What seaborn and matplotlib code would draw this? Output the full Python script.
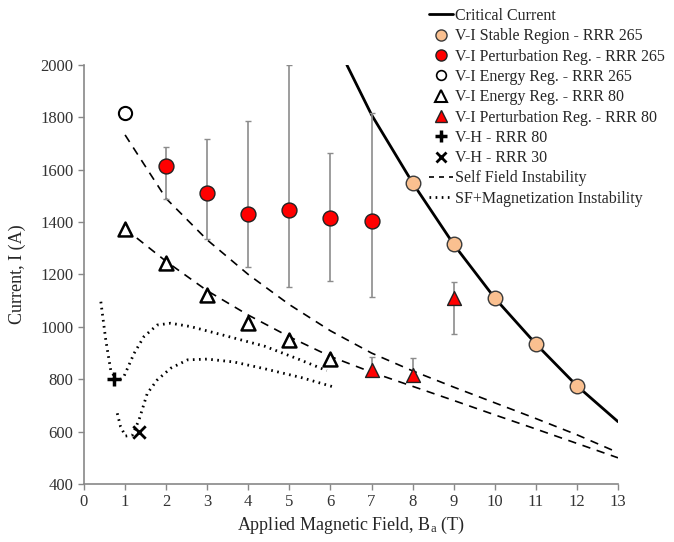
import numpy as np
import pandas as pd
import matplotlib
matplotlib.use("Agg")
import matplotlib.pyplot as plt
import seaborn as sns
from matplotlib.lines import Line2D

# --- data ---
crit_b = [6.4, 7, 8, 9, 10, 11, 12, 13]
crit_i = [2000, 1810, 1550, 1315, 1110, 935, 775, 638]

stable_b = [8, 9, 10, 11, 12]
stable_i = [1550, 1315, 1110, 935, 775]

pert265_b = [2, 3, 4, 5, 6, 7]
pert265_i = [1615, 1512, 1432, 1448, 1414, 1406]
pert265_hi = [1688, 1717, 1785, 2000, 1665, 1815]
pert265_lo = [1488, 1336, 1228, 1152, 1177, 1115]

energy265_b = [1]
energy265_i = [1815]

energy80_b = [1, 2, 3, 4, 5, 6]
energy80_i = [1372, 1243, 1122, 1014, 950, 876]

pert80_b = [7, 8, 9]
pert80_i = [834, 816, 1109]
pert80_hi = [884, 880, 1170]
pert80_lo = [834, 816, 973]

vh80_b, vh80_i = [0.72], [800]
vh30_b, vh30_i = [1.34], [600]

sf_upper_b = [1, 2, 3, 4, 5, 6, 7, 8, 9, 10, 11, 12, 13]
sf_upper_i = [1733, 1490, 1332, 1200, 1085, 985, 900, 832, 770, 710, 650, 588, 520]
sf_lower_b = [1, 2, 3, 4, 5, 6, 7, 8, 9, 10, 11, 12, 13]
sf_lower_i = [1375, 1250, 1138, 1045, 962, 887, 827, 773, 719, 664, 610, 555, 500]

mag1_b = [0.41, 0.53, 0.65, 0.81, 0.97, 1.22, 1.46, 1.78, 2.11, 2.6, 3.4, 4.4, 5.2, 5.91]
mag1_i = [1096, 950, 835, 791, 810, 899, 963, 1007, 1014, 1001, 968, 926, 878, 833]
mag2_b = [0.81, 0.89, 1.01, 1.18, 1.34, 1.54, 1.78, 2.11, 2.52, 3.0, 3.65, 4.4, 5.3, 6.11]
mag2_i = [670, 619, 583, 587, 645, 746, 797, 842, 874, 877, 866, 840, 806, 769]

sns.set_style("ticks")
plt.rcParams['font.family'] = ['Liberation Serif', 'DejaVu Serif']
plt.rcParams['mathtext.fontset'] = 'custom'
plt.rcParams['mathtext.rm'] = 'Liberation Serif'
plt.rcParams['mathtext.it'] = 'Liberation Serif:italic'

fig = plt.figure(figsize=(6.74, 5.42), dpi=100)
ax = fig.add_axes([84 / 674, 1 - 484 / 542, 534 / 674, 419 / 542])

# curves
sns.lineplot(x=crit_b, y=crit_i, ax=ax, color='black', lw=2, sort=False, estimator=None)
for b, i in [(sf_upper_b, sf_upper_i), (sf_lower_b, sf_lower_i)]:
    sns.lineplot(x=b, y=i, ax=ax, color='black', lw=1.2, sort=False, estimator=None,
                 linestyle=(0, (5, 4)))
for b, i in [(mag1_b, mag1_i), (mag2_b, mag2_i)]:
    sns.lineplot(x=b, y=i, ax=ax, color='black', lw=2, sort=False, estimator=None,
                 linestyle=(0, (0.6, 1.6)))

# error bars
ecol = '#8c8c8c'
ax.errorbar(pert265_b, pert265_i,
            yerr=[np.array(pert265_i) - np.array(pert265_lo), np.array(pert265_hi) - np.array(pert265_i)],
            fmt='none', ecolor=ecol, elinewidth=1.2, capsize=2.5, capthick=1, zorder=3)
ax.errorbar(pert80_b, pert80_i,
            yerr=[np.array(pert80_i) - np.array(pert80_lo), np.array(pert80_hi) - np.array(pert80_i)],
            fmt='none', ecolor=ecol, elinewidth=1.2, capsize=2.5, capthick=1, zorder=3)

# markers
sns.scatterplot(x=stable_b, y=stable_i, ax=ax, marker='o', s=110, color='#FAC090',
                edgecolor='#3a3a3a', linewidth=1, zorder=5)
sns.scatterplot(x=pert265_b, y=pert265_i, ax=ax, marker='o', s=115, color='#FF0000',
                edgecolor='#222222', linewidth=1, zorder=5)
sns.scatterplot(x=energy265_b, y=energy265_i, ax=ax, marker='o', s=90, color='white',
                edgecolor='black', linewidth=1.5, zorder=5)
sns.scatterplot(x=energy80_b, y=energy80_i, ax=ax, marker='^', s=100, color='white',
                edgecolor='black', linewidth=1.8, zorder=5)
sns.scatterplot(x=pert80_b, y=pert80_i, ax=ax, marker='^', s=100, color='#FF0000',
                edgecolor='#222222', linewidth=1, zorder=5)
ax.scatter(vh80_b, vh80_i, marker='+', s=110, color='black', linewidths=2.5, zorder=6)
ax.scatter(vh30_b, vh30_i, marker='x', s=80, color='black', linewidths=2, zorder=6)

ax.set_xlim(0, 13)
ax.set_ylim(400, 2000)
ax.set_xticks(range(0, 14))
ax.set_yticks(range(400, 2001, 200))
ax.tick_params(labelsize=12, colors='#333333', length=4, color='#888888', width=1)
for s in ['left', 'bottom']:
    ax.spines[s].set_color('#888888')
    ax.spines[s].set_linewidth(1.2)
sns.despine(ax=ax)
ax.set_xlabel('Applied Magnetic Field, B$_\\mathrm{a}$ (T)', fontsize=13, labelpad=3)
ax.set_ylabel('Current, I (A)', fontsize=13, labelpad=10)

handles = [
    Line2D([], [], color='black', lw=2),
    Line2D([], [], ls='none', marker='o', ms=8, mfc='#FAC090', mec='#3a3a3a'),
    Line2D([], [], ls='none', marker='o', ms=8, mfc='#FF0000', mec='#222222'),
    Line2D([], [], ls='none', marker='o', ms=7, mfc='white', mec='black', mew=1.2),
    Line2D([], [], ls='none', marker='^', ms=8, mfc='white', mec='black', mew=1.5),
    Line2D([], [], ls='none', marker='^', ms=8, mfc='#FF0000', mec='#222222'),
    Line2D([], [], ls='none', marker='+', ms=8, color='black', mew=2.5),
    Line2D([], [], ls='none', marker='x', ms=7, color='black', mew=2),
    Line2D([], [], color='black', lw=1.2, ls=(0, (3, 3))),
    Line2D([], [], color='black', lw=2, ls=(0, (0.6, 1.6))),
]
labels = ['Critical Current', 'V-I Stable Region - RRR 265', 'V-I Perturbation Reg. - RRR 265',
          'V-I Energy Reg. - RRR 265', 'V-I Energy Reg. - RRR 80', 'V-I Perturbation Reg. - RRR 80',
          'V-H - RRR 80', 'V-H - RRR 30', 'Self Field Instability', 'SF+Magnetization Instability']
fig.legend(handles, labels, loc='upper left', bbox_to_anchor=(429 / 674, 1 - 8 / 542),
           frameon=False, fontsize=11.5, handlelength=1.5, handletextpad=0.15,
           labelspacing=0.27, borderaxespad=0, borderpad=0)

fig.savefig('out.png', dpi=100)
